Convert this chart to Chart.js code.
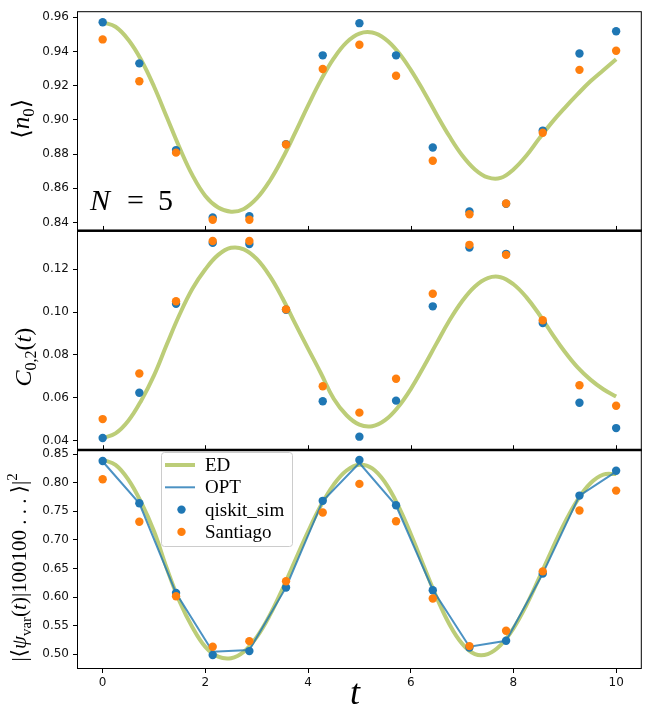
<!DOCTYPE html>
<html>
<head>
<meta charset="utf-8">
<script src="https://cdn.jsdelivr.net/npm/chart.js@4.4.1/dist/chart.umd.min.js"></script>
<style>
  html, body { margin: 0; padding: 0; background: #fff; }
  canvas { display: block; }
</style>
</head>
<body>
<canvas id="chart" width="646" height="707"></canvas>
<script>
// sample times of the circuit runs
const times = [0, 0.714, 1.429, 2.143, 2.857, 3.571, 4.286, 5.0, 5.714, 6.429, 7.143, 7.857, 8.571, 9.286, 10.0];
const edTimes = [0, 0.25, 0.5, 0.75, 1, 1.25, 1.5, 1.75, 2, 2.25, 2.5, 2.75, 3, 3.25, 3.5, 3.75, 4, 4.25, 4.5, 4.75,
    5, 5.25, 5.5, 5.75, 6, 6.25, 6.5, 6.75, 7, 7.25, 7.5, 7.75, 8, 8.25, 8.5, 8.75, 9, 9.25, 9.5, 9.75, 10];

// top panel: <n_0>
const simN0 = [0.957, 0.933, 0.8823, 0.8429, 0.8437, 0.8858, 0.9377, 0.9565, 0.9377, 0.8838, 0.8464, 0.8509, 0.8937, 0.9388, 0.9518];
const devN0 = [0.947, 0.9225, 0.8808, 0.8416, 0.8416, 0.8856, 0.9297, 0.9439, 0.9258, 0.8761, 0.8448, 0.8511, 0.8924, 0.9292, 0.9404];
const edN0 = [0.9570, 0.9544, 0.9468, 0.9350, 0.9195, 0.9015, 0.8835, 0.8675, 0.8555, 0.8487, 0.8463, 0.8479, 0.8540, 0.8641,
    0.8773, 0.8925, 0.9083, 0.9232, 0.9359, 0.9453, 0.9504, 0.9510, 0.9473, 0.9398, 0.9292, 0.9167, 0.9033, 0.8905,
    0.8793, 0.8710, 0.8663, 0.8660, 0.8710, 0.8790, 0.8890, 0.8985, 0.9070, 0.9150, 0.9225, 0.9290, 0.9354];

// middle panel: C_{0,2}(t)
const simC = [0.0413, 0.0624, 0.1039, 0.1323, 0.1318, 0.1011, 0.0584, 0.0419, 0.0587, 0.1027, 0.1301, 0.1272, 0.0949, 0.0577, 0.0459];
const devC = [0.0501, 0.0714, 0.1051, 0.1332, 0.1332, 0.1013, 0.0654, 0.0531, 0.0689, 0.1086, 0.1314, 0.1267, 0.0962, 0.0659, 0.0563];
const edC = [0.0413, 0.0434, 0.0493, 0.0587, 0.0705, 0.0850, 0.0990, 0.1110, 0.1200, 0.1267, 0.1300, 0.1293, 0.1248, 0.1170,
    0.1066, 0.0946, 0.0830, 0.0715, 0.0596, 0.0519, 0.0475, 0.0468, 0.0496, 0.0556, 0.0641, 0.0744, 0.0853, 0.0960,
    0.1051, 0.1120, 0.1159, 0.1163, 0.1130, 0.1070, 0.0990, 0.0900, 0.0815, 0.0742, 0.0685, 0.0640, 0.0606];

// bottom panel: fidelity with |100100...>
const simF = [0.8378, 0.764, 0.6073, 0.4988, 0.5057, 0.6167, 0.7682, 0.8396, 0.7605, 0.612, 0.512, 0.5237, 0.641, 0.7774, 0.8209];
const devF = [0.8058, 0.7316, 0.6016, 0.5133, 0.5231, 0.6278, 0.7478, 0.7978, 0.7326, 0.5975, 0.5144, 0.5411, 0.645, 0.7513, 0.7861];
const optF = [0.837, 0.764, 0.607, 0.5045, 0.5075, 0.617, 0.768, 0.8343, 0.760, 0.613, 0.5133, 0.5237, 0.641, 0.7774, 0.8191];
const edF = [0.8400, 0.8311, 0.8053, 0.7653, 0.7150, 0.6500, 0.5920, 0.5470, 0.5130, 0.4960, 0.4933, 0.5046, 0.5302, 0.5676,
    0.6137, 0.6642, 0.7145, 0.7600, 0.7966, 0.8212, 0.8312, 0.8248, 0.8004, 0.7608, 0.7103, 0.6548, 0.6003, 0.5531,
    0.5187, 0.5004, 0.5004, 0.5160, 0.5455, 0.5857, 0.6332, 0.6828, 0.7299, 0.7700, 0.7989, 0.8140, 0.8150];

// tick labels
const xTicks = [0, 2, 4, 6, 8, 10];
const ticksN0 = [0.84, 0.86, 0.88, 0.90, 0.92, 0.94, 0.96];
const ticksC = [0.04, 0.06, 0.08, 0.10, 0.12];
const ticksF = [0.50, 0.55, 0.60, 0.65, 0.70, 0.75, 0.80, 0.85];

const SERIF = "'Liberation Serif', 'DejaVu Serif', serif";
const SANS = "'DejaVu Sans', sans-serif";
const ED_COLOR = '#bccd78';
const OPT_COLOR = 'rgba(31,119,180,0.8)';
const SIM_COLOR = '#1f77b4';
const DEV_COLOR = '#ff7f0e';

function pts(xs, ys) {
    return xs.map(function (x, i) { return { x: x, y: ys[i] }; });
}

function edLine(ys, axis) {
    return {
        type: 'line', label: 'ED', yAxisID: axis, data: pts(edTimes, ys),
        borderColor: ED_COLOR, backgroundColor: ED_COLOR, borderWidth: 4,
        pointRadius: 0, tension: 0.4, fill: false, order: 4,
    };
}

function dots(label, ys, color, axis, order) {
    return {
        type: 'scatter', label: label, yAxisID: axis, data: pts(times, ys),
        backgroundColor: color, borderColor: color, borderWidth: 0,
        pointRadius: 4.2, order: order,
    };
}

function yScale(min, max, tickVals) {
    return {
        type: 'linear', position: 'left', stack: 'panels', stackWeight: 1, offset: false,
        min: min, max: max,
        afterBuildTicks: function (s) { s.ticks = tickVals.map(function (v) { return { value: v }; }); },
        afterFit: function (s) { s.width = 77; },
        border: { display: false },
        grid: { drawOnChartArea: false, drawTicks: true, tickLength: 4, color: '#000', lineWidth: 1 },
        ticks: {
            font: { family: SANS, size: 12 }, color: '#111', padding: 4, autoSkip: false,
            callback: function (v) { return v.toFixed(2); },
        },
    };
}

// draws a run of text pieces: [text, font, dy]
function richText(ctx, parts, x, y, rot, center) {
    ctx.save();
    ctx.translate(x, y);
    ctx.rotate(rot);
    ctx.textBaseline = 'alphabetic';
    ctx.textAlign = 'left';
    let w = 0;
    parts.forEach(function (p) { ctx.font = p[1]; w += ctx.measureText(p[0]).width; });
    let cx = center ? -w / 2 : 0;
    parts.forEach(function (p) {
        ctx.font = p[1];
        ctx.fillText(p[0], cx, p[2] || 0);
        cx += ctx.measureText(p[0]).width;
    });
    ctx.restore();
}

const panelFrames = {
    id: 'panelFrames',
    afterDatasetsDraw: function (chart) {
        const ctx = chart.ctx, a = chart.chartArea, s = chart.scales;
        ctx.save();
        ctx.strokeStyle = '#000';
        ctx.lineWidth = 1;
        ctx.strokeRect(a.left + 0.5, a.top + 0.5, a.right - a.left - 1, a.bottom - a.top - 1);
        ctx.fillStyle = '#000';
        [s.yA.bottom, s.yB.bottom].forEach(function (b) {
            ctx.fillRect(a.left, b - 1, a.right - a.left, 2.5);
            xTicks.forEach(function (v) {
                const px = Math.round(s.x.getPixelForValue(v)) + 0.5;
                ctx.beginPath();
                ctx.moveTo(px, b - 4.5);
                ctx.lineTo(px, b);
                ctx.stroke();
            });
        });
        ctx.restore();
    },
};

const mathLabels = {
    id: 'mathLabels',
    afterDraw: function (chart) {
        const ctx = chart.ctx, s = chart.scales;
        ctx.save();
        ctx.fillStyle = '#000';
        const up = -Math.PI / 2;
        const midA = (s.yA.top + s.yA.bottom) / 2;
        const midB = (s.yB.top + s.yB.bottom) / 2;
        const midC = (s.yC.top + s.yC.bottom) / 2;
        richText(ctx, [
            ['\u27E8', '24px ' + SERIF], ['n', 'italic 25px ' + SERIF],
            ['0', '17px ' + SERIF, 5], ['\u27E9', '24px ' + SERIF],
        ], 29, midA - 2, up, true);
        richText(ctx, [
            ['C', 'italic 24px ' + SERIF], ['0,2', '16px ' + SERIF, 5],
            ['(', '24px ' + SERIF], ['t', 'italic 24px ' + SERIF], [')', '24px ' + SERIF],
        ], 31, midB + 17, up, true);
        richText(ctx, [
            ['|\u27E8', '21px ' + SERIF], ['\u03C8', 'italic 21px ' + SERIF],
            ['var', '15px ' + SERIF, 5], ['(', '21px ' + SERIF], ['t', 'italic 21px ' + SERIF],
            [')|100100', '21px ' + SERIF], [' . . . ', '21px ' + SERIF],
            ['\u27E9|', '21px ' + SERIF], ['2', '15px ' + SERIF, -9],
        ], 26, midC + 8, up, true);
        // N = 5
        ctx.font = 'italic 30px ' + SERIF;
        ctx.fillText('N', 90, 210);
        ctx.font = '30px ' + SERIF;
        ctx.fillText('=', 127, 210);
        ctx.fillText('5', 158, 210);
        // x axis label
        ctx.font = 'italic 36px ' + SERIF;
        ctx.textAlign = 'center';
        ctx.fillText('t', 355, 704);
        ctx.restore();
    },
};

const insetLegend = {
    id: 'insetLegend',
    afterDraw: function (chart) {
        const ctx = chart.ctx;
        const items = chart.data.datasets.filter(function (d) { return d.yAxisID === 'yC'; })
            .sort(function (p, q) { return q.order - p.order; });
        const bx = 161.5, by = 452.5, bw = 131, bh = 94;
        ctx.save();
        ctx.fillStyle = 'rgba(255,255,255,0.8)';
        ctx.strokeStyle = '#cccccc';
        ctx.lineWidth = 1;
        ctx.beginPath();
        ctx.roundRect(bx, by, bw, bh, 3);
        ctx.fill();
        ctx.stroke();
        ctx.font = '19px ' + SERIF;
        ctx.textBaseline = 'alphabetic';
        items.forEach(function (d, i) {
            const cy = 465 + i * 22.3;
            if (d.type === 'line') {
                ctx.strokeStyle = d.borderColor;
                ctx.lineWidth = d.borderWidth;
                ctx.beginPath();
                ctx.moveTo(165, cy);
                ctx.lineTo(195, cy);
                ctx.stroke();
            } else {
                ctx.fillStyle = d.backgroundColor;
                ctx.beginPath();
                ctx.arc(181.5, cy, 4.2, 0, Math.PI * 2);
                ctx.fill();
            }
            ctx.fillStyle = '#000';
            ctx.fillText(d.label, 205, cy + 6);
        });
        ctx.restore();
    },
};

new Chart(document.getElementById('chart'), {
    type: 'scatter',
    data: {
        datasets: [
            edLine(edN0, 'yA'),
            dots('qiskit_sim', simN0, SIM_COLOR, 'yA', 2),
            dots('Santiago', devN0, DEV_COLOR, 'yA', 1),
            edLine(edC, 'yB'),
            dots('qiskit_sim', simC, SIM_COLOR, 'yB', 2),
            dots('Santiago', devC, DEV_COLOR, 'yB', 1),
            edLine(edF, 'yC'),
            {
                type: 'line', label: 'OPT', yAxisID: 'yC', data: pts(times, optF),
                borderColor: OPT_COLOR, backgroundColor: OPT_COLOR, borderWidth: 2,
                pointRadius: 0, tension: 0, fill: false, order: 3,
            },
            dots('qiskit_sim', simF, SIM_COLOR, 'yC', 2),
            dots('Santiago', devF, DEV_COLOR, 'yC', 1),
        ],
    },
    options: {
        responsive: false,
        devicePixelRatio: 1,
        animation: false,
        layout: { padding: { top: 9, right: 3, left: 0, bottom: 0 } },
        plugins: { legend: { display: false }, tooltip: { enabled: false } },
        scales: {
            x: {
                type: 'linear', min: -0.5, max: 10.5,
                afterBuildTicks: function (s) { s.ticks = xTicks.map(function (v) { return { value: v }; }); },
                afterFit: function (s) { s.height = 38; },
                border: { display: false },
                grid: { drawOnChartArea: false, drawTicks: true, tickLength: 4, color: '#000', lineWidth: 1 },
                ticks: {
                    font: { family: SANS, size: 12 }, color: '#111', padding: 3,
                    autoSkip: false, maxRotation: 0,
                    callback: function (v) { return String(v); },
                },
            },
            yC: yScale(0.4744, 0.8575, ticksF),
            yB: yScale(0.0358, 0.1381, ticksC),
            yA: yScale(0.8353, 0.9635, ticksN0),
        },
    },
    plugins: [panelFrames, mathLabels, insetLegend],
});
</script>
</body>
</html>
